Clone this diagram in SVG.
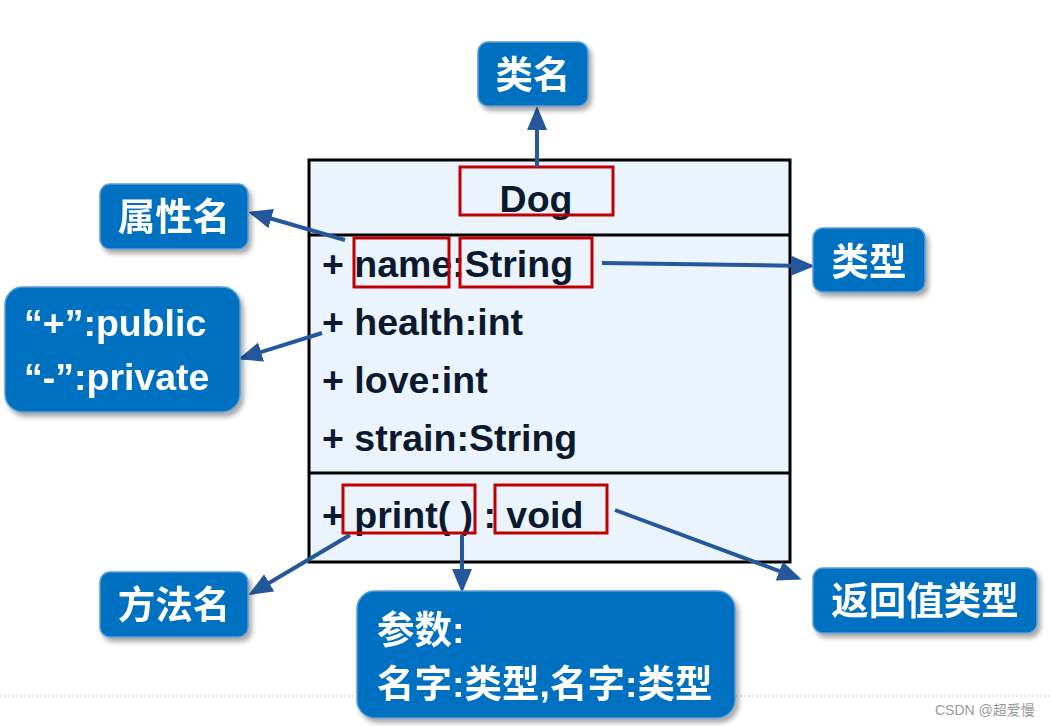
<svg xmlns="http://www.w3.org/2000/svg" width="1050" height="726" viewBox="0 0 1050 726">
<style>
.cls{font-family:"Liberation Sans","Noto Sans CJK SC",sans-serif;font-weight:bold;font-size:37.5px;fill:#0B1A2E}
.call{fill:#0070C0;stroke:#5B9BD5;stroke-width:1.5}
.ct{font-family:"Liberation Sans","Noto Sans CJK SC",sans-serif;font-weight:bold;font-size:37.5px;fill:#FFFFFF}
.red{fill:none;stroke:#C00000;stroke-width:3}
.conn{stroke:#25589A;stroke-width:4;fill:none;marker-end:url(#ah)}
</style>
<defs>
<marker id="ah" markerWidth="6" markerHeight="5" refX="5" refY="2.5" orient="auto" markerUnits="strokeWidth">
<path d="M0,0 L6,2.5 L0,5 Z" fill="#25589A"/>
</marker>
<filter id="sh" x="-10%" y="-10%" width="125%" height="135%">
<feDropShadow dx="3" dy="4" stdDeviation="2.5" flood-color="#000" flood-opacity="0.35"/>
</filter>
</defs>
<rect width="1050" height="726" fill="#FFFFFF"/>
<line x1="0" y1="696" x2="1050" y2="696" stroke="#CCCCCC" stroke-width="1" stroke-dasharray="2,2"/>
<g id="class-dog">
<rect x="309" y="160" width="481" height="402" fill="#EBF4FC" stroke="#000" stroke-width="3"/>
<line x1="309" y1="235" x2="790" y2="235" stroke="#000" stroke-width="3"/>
<line x1="309" y1="473" x2="790" y2="473" stroke="#000" stroke-width="3"/>
<text class="cls" x="536" y="212" text-anchor="middle">Dog</text>
<text class="cls" x="322" y="277">+ name:String</text>
<text class="cls" x="322" y="335">+ health:int</text>
<text class="cls" x="322" y="393">+ love:int</text>
<text class="cls" x="322" y="451">+ strain:String</text>
<text class="cls" x="322" y="528">+ print( ) : void</text>
<rect class="red" x="460" y="167" width="153" height="48"/>
<rect class="red" x="354" y="238" width="95" height="49"/>
<rect class="red" x="460" y="238" width="132" height="49"/>
<rect class="red" x="343" y="485" width="132" height="48"/>
<rect class="red" x="495" y="485" width="112" height="48"/>
</g>
<g id="connectors">
<line class="conn" x1="537" y1="167" x2="537" y2="110"/>
<line class="conn" x1="345" y1="240" x2="252" y2="213"/>
<line class="conn" x1="322" y1="333" x2="242" y2="358"/>
<line class="conn" x1="602" y1="263" x2="811" y2="266"/>
<line class="conn" x1="350" y1="535" x2="252" y2="593"/>
<line class="conn" x1="462" y1="535" x2="462" y2="589"/>
<line class="conn" x1="615" y1="510" x2="798" y2="578"/>
</g>
<g id="callout-classname" filter="url(#sh)">
<rect class="call" x="478" y="42" width="110" height="64" rx="10"/>
<text class="ct" x="533" y="88" text-anchor="middle">类名</text>
</g>
<g id="callout-attrname" filter="url(#sh)">
<rect class="call" x="100" y="184" width="148" height="65" rx="10"/>
<text class="ct" x="174" y="230" text-anchor="middle">属性名</text>
</g>
<g id="callout-visibility" filter="url(#sh)">
<rect class="call" x="5" y="287" width="235" height="125" rx="18"/>
<text class="ct" x="24" y="336">“+”:public</text>
<text class="ct" x="24" y="390">“-”:private</text>
</g>
<g id="callout-type" filter="url(#sh)">
<rect class="call" x="813" y="228" width="112" height="64" rx="10"/>
<text class="ct" x="869" y="275" text-anchor="middle">类型</text>
</g>
<g id="callout-methodname" filter="url(#sh)">
<rect class="call" x="100" y="572" width="148" height="65" rx="10"/>
<text class="ct" x="174" y="618" text-anchor="middle">方法名</text>
</g>
<g id="callout-params" filter="url(#sh)">
<rect class="call" x="357" y="591" width="378" height="127" rx="18"/>
<text class="ct" x="377" y="643">参数:</text>
<text class="ct" x="377" y="697">名字:类型,名字:类型</text>
</g>
<g id="callout-returntype" filter="url(#sh)">
<rect class="call" x="813" y="568" width="224" height="65" rx="10"/>
<text class="ct" x="925" y="614" text-anchor="middle">返回值类型</text>
</g>
<text x="935" y="715" font-family="'Liberation Sans','Noto Sans CJK SC',sans-serif" font-size="14" fill="#999999">CSDN @超爱慢</text>
</svg>
